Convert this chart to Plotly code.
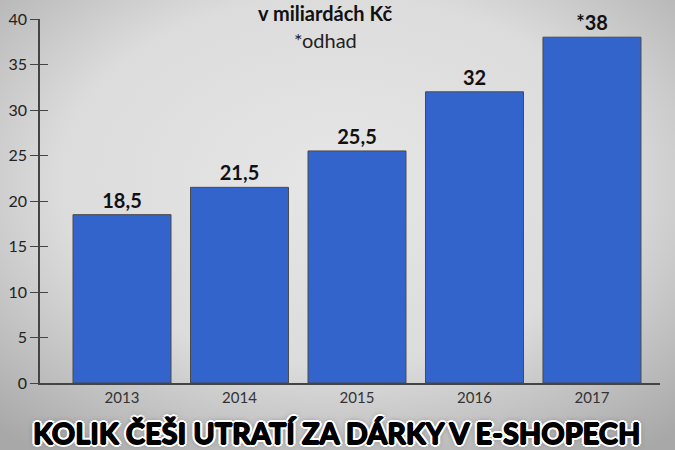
import plotly.graph_objects as go
import base64

years = ["2013", "2014", "2015", "2016", "2017"]
values = [18.5, 21.5, 25.5, 32, 38]
estimated = [False, False, False, False, True]
y_ticks = [0, 5, 10, 15, 20, 25, 30, 35, 40]

def fmt(v, est):
    s = ("%g" % v).replace(".", ",")
    return ("*" + s) if est else s

labels = [fmt(v, e) for v, e in zip(values, estimated)]

svg = """<svg xmlns='http://www.w3.org/2000/svg' width='675' height='450' preserveAspectRatio='none'>
<defs><radialGradient id='g' cx='50%' cy='40%' r='75%'>
<stop offset='0%' stop-color='#e6e6e6'/>
<stop offset='55%' stop-color='#dcdcdc'/>
<stop offset='100%' stop-color='#a8a8a8'/>
</radialGradient></defs>
<rect width='675' height='450' fill='url(#g)'/></svg>"""
bg = "data:image/svg+xml;base64," + base64.b64encode(svg.encode()).decode()

fig = go.Figure()
fig.add_trace(go.Bar(
    x=years, y=values, text=labels, textposition="outside",
    texttemplate="%{text}", cliponaxis=False,
    marker=dict(color="#3264cc", line=dict(color="#4a4a4a", width=1)),
    textfont=dict(family="Lato", size=20, color="#111111", weight="bold"),
    hoverinfo="skip",
))
fig.add_trace(go.Scatter(x=[years[0]], y=[0], yaxis="y2", mode="markers",
                         marker=dict(opacity=0), hoverinfo="skip", showlegend=False))

title_shadow = ", ".join(
    ["0.8px 0 0 #000", "-0.8px 0 0 #000", "0 0.8px 0 #000", "0 -0.8px 0 #000"]
    + ["%gpx %gpx 0 #fff" % (dx, dy) for dx, dy in
       [(3, 0), (-3, 0), (0, 3), (0, -3), (2, 2), (-2, -2), (2, -2), (-2, 2)]]
    + ["0 0 6px #444"]
)

fig.update_layout(
    width=675, height=450,
    margin=dict(l=40, r=15, t=19, b=67, autoexpand=False),
    paper_bgcolor="#dcdcdc", plot_bgcolor="rgba(0,0,0,0)",
    showlegend=False, bargap=0.166,
    images=[dict(source=bg, xref="paper", yref="paper", x=-40/620, y=1+19/364,
                 sizex=675/620, sizey=450/364, xanchor="left", yanchor="top",
                 sizing="stretch", layer="below")],
    xaxis=dict(type="category", range=[-0.698, 4.579], showline=True, automargin=False,
               linecolor="#444444", linewidth=1.5, ticks="", showgrid=False,
               tickfont=dict(family="Lato", size=15, color="#333333"), zeroline=False),
    yaxis=dict(range=[0, 40], tickvals=y_ticks, showline=True, linecolor="#444444",
               linewidth=1.5, ticks="outside", ticklen=8, tickcolor="#444444",
               showgrid=False, zeroline=False, automargin=False,
               tickfont=dict(family="Lato", size=16, color="#222222")),
    yaxis2=dict(range=[0, 40], overlaying="y", side="left", tickvals=y_ticks,
                ticks="inside", ticklen=8, tickcolor="#444444", showticklabels=False,
                showgrid=False, zeroline=False, showline=False, automargin=False),
    annotations=[
        dict(text="<b>v miliardách Kč</b>", xref="paper", yref="paper",
             x=(325-40)/620, y=1+6/364, xanchor="center", yanchor="middle",
             showarrow=False, font=dict(family="Lato", size=20, color="#111111")),
        dict(text="*odhad", xref="paper", yref="paper",
             x=(325-40)/620, y=1-21/364, xanchor="center", yanchor="middle",
             showarrow=False, font=dict(family="Lato", size=20, color="#222222")),
        dict(text="<b>KOLIK ČEŠI UTRATÍ ZA DÁRKY V E-SHOPECH</b>", xref="paper", yref="paper",
             x=(336-40)/620, y=-(432-383)/364, xanchor="center", yanchor="middle",
             showarrow=False,
             font=dict(family="Lato", size=29, color="#000000", shadow=title_shadow)),
    ],
)

fig.write_html("out.html", config={"displayModeBar": False},
               post_script="document.body.style.margin='0';document.body.style.overflow='hidden';")
